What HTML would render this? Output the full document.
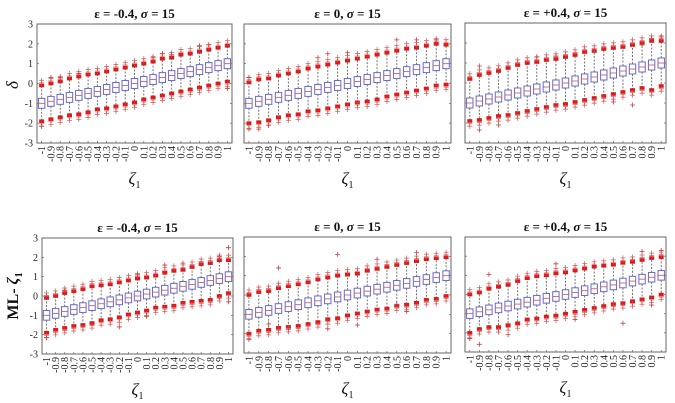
<!DOCTYPE html>
<html><head><meta charset="utf-8"><style>
html,body{margin:0;padding:0;background:#fff;}
svg{display:block;font-family:"Liberation Serif",serif;}
</style></head><body>
<svg id="chart" width="675" height="403" viewBox="0 0 675 403" xmlns="http://www.w3.org/2000/svg"></svg>
<script>
const categories = [-1,-0.9,-0.8,-0.7,-0.6,-0.5,-0.4,-0.3,-0.2,-0.1,0,0.1,0.2,0.3,0.4,0.5,0.6,0.7,0.8,0.9,1];
const tickLabels = ["-1","-0.9","-0.8","-0.7","-0.6","-0.5","-0.4","-0.3","-0.2","-0.1","0","0.1","0.2","0.3","0.4","0.5","0.6","0.7","0.8","0.9","1"];
const yTicks = [-3,-2,-1,0,1,2,3];
const titles = ["-0.4","0","+0.4","-0.4","0","+0.4"];
const medians = [-1,-0.9,-0.8,-0.7,-0.6,-0.5,-0.4,-0.3,-0.2,-0.1,0,0.1,0.2,0.3,0.4,0.5,0.6,0.7,0.8,0.9,1];
const boxHalf = [0.25,0.25,0.25,0.25,0.25,0.25,0.25,0.25,0.25,0.25,0.25,0.25,0.25,0.25,0.25,0.25,0.25,0.25,0.25,0.25,0.25];
const upper1 = [-0.1,0.0,0.1,0.25,0.35,0.45,0.5,0.6,0.7,0.8,0.9,1.0,1.1,1.25,1.3,1.45,1.5,1.6,1.7,1.8,1.9];
const lower1 = [-1.9,-1.8,-1.7,-1.6,-1.55,-1.45,-1.3,-1.25,-1.15,-1.05,-0.95,-0.8,-0.7,-0.6,-0.5,-0.4,-0.3,-0.2,-0.1,0.0,0.1];
const upper2 = [0.05,0.2,0.25,0.4,0.5,0.6,0.75,0.85,0.95,1.05,1.15,1.25,1.35,1.45,1.55,1.65,1.75,1.8,1.9,2.0,1.95];
const lower2 = [-2.0,-1.95,-1.85,-1.7,-1.6,-1.55,-1.4,-1.35,-1.25,-1.15,-1.05,-0.95,-0.9,-0.8,-0.65,-0.55,-0.45,-0.35,-0.25,-0.1,-0.05];
const upper3 = [0.2,0.4,0.5,0.6,0.75,0.9,1.0,1.05,1.15,1.2,1.3,1.4,1.55,1.6,1.7,1.75,1.8,1.9,2.0,2.1,2.1];
const lower3 = [-1.9,-1.85,-1.75,-1.65,-1.6,-1.5,-1.4,-1.3,-1.2,-1.1,-1.05,-0.95,-0.85,-0.75,-0.65,-0.55,-0.45,-0.35,-0.25,-0.35,-0.15];
const upper4 = [-0.1,0.0,0.15,0.25,0.35,0.5,0.55,0.6,0.7,0.8,0.9,0.95,1.05,1.2,1.3,1.35,1.5,1.65,1.7,1.85,1.85];
const lower4 = [-1.9,-1.75,-1.65,-1.55,-1.5,-1.4,-1.25,-1.2,-1.1,-0.95,-0.85,-0.75,-0.6,-0.55,-0.5,-0.35,-0.3,-0.25,-0.2,0.0,0.15];
const upper5 = [0.0,0.15,0.2,0.35,0.45,0.55,0.65,0.8,0.9,1.0,1.05,1.1,1.25,1.35,1.45,1.55,1.65,1.75,1.85,1.9,1.95];
const lower5 = [-2.0,-1.85,-1.8,-1.7,-1.65,-1.6,-1.5,-1.4,-1.25,-1.2,-1.05,-0.95,-0.85,-0.75,-0.7,-0.55,-0.5,-0.4,-0.25,-0.2,-0.05];
const upper6 = [0.0,0.1,0.3,0.4,0.5,0.7,0.85,0.95,1.0,1.1,1.15,1.25,1.35,1.45,1.5,1.55,1.65,1.7,1.8,1.9,1.95];
const lower6 = [-2.0,-1.8,-1.7,-1.7,-1.6,-1.5,-1.3,-1.25,-1.15,-1.1,-1.0,-0.9,-0.8,-0.7,-0.6,-0.5,-0.45,-0.35,-0.25,-0.15,0.0];
const extra1 = [[0,-2.15],[1,0.3],[2,0.3],[4,0.5],[8,-1.2],[12,1.3],[13,1.5],[14,1.45],[17,1.9],[18,1.95],[20,-0.25]];
const extra2 = [[0,0.3],[0,-2.3],[1,-2.3],[2,-2.1],[7,1.3],[8,1.5],[10,1.55],[11,-0.95],[15,2.2],[17,2.2],[19,2.2]];
const extra3 = [[1,-2.35],[1,0.85],[3,-2.1],[7,1.3],[13,1.6],[15,-0.95],[17,-1.1],[18,1.9],[19,2.2],[20,2.3],[9,1.35]];
const extra4 = [[0,-2.15],[2,0.3],[8,-1.6],[10,1.1],[11,-1.05],[15,1.7],[19,2.05],[20,2.5],[20,-0.3],[13,1.6]];
const extra5 = [[0,-2.3],[2,-1.5],[3,1.4],[4,-1.7],[8,-1.75],[9,2.1],[11,-1.55],[17,2.2],[15,-0.5],[16,-0.85],[13,1.85]];
const extra6 = [[0,-2.3],[1,-2.6],[2,1.05],[4,-2.1],[9,1.6],[11,-1.3],[16,-1.5],[18,2.25],[19,-0.55],[20,2.3]];
const uppers = [upper1,upper2,upper3,upper4,upper5,upper6];
const lowers = [lower1,lower2,lower3,lower4,lower5,lower6];
const extras = [extra1,extra2,extra3,extra4,extra5,extra6];
const panels = [[37,24,232,143],[244,24,451,143],[465,23,666,143],[42,238,233,354],[244,237,451,353],[465,237,666,352]];

const svg = document.getElementById('chart');
const NS = 'http://www.w3.org/2000/svg';
function mk(tag, attrs, parent){const e=document.createElementNS(NS,tag);for(const k in attrs)e.setAttribute(k,attrs[k]);(parent||svg).appendChild(e);return e;}

panels.forEach((p,pi)=>{
  const [x0,y0,x1,y1]=p;
  const g=mk('g',{});
  
  
  const n=categories.length, step=(x1-x0)/n;
  const xs=i=>x0+step*(i+0.5);
  const ys=v=>y1-(v+3)/6*(y1-y0);
  const fr=mk('rect',{x:x0,y:y0,width:x1-x0,height:y1-y0,fill:'#fff',stroke:'#555','stroke-width':0.9},g);
  
  
  yTicks.forEach(t=>{
    const y=ys(t);
    mk('line',{x1:x0,x2:x0+2,y1:y,y2:y,stroke:'#666','stroke-width':0.7},g);
    mk('line',{x1:x1,x2:x1-2,y1:y,y2:y,stroke:'#666','stroke-width':0.7},g);
    if(pi===0||pi===3){const tx=mk('text',{x:x0-4,y:y+3.5,'font-size':10,'text-anchor':'end',fill:'#222'},g);tx.textContent=t;
      
      }
  });
  categories.forEach((c,i)=>{
    const x=xs(i);
    mk('line',{x1:x,x2:x,y1:y1,y2:y1-2,stroke:'#666','stroke-width':0.7},g);
    const tx=mk('text',{x:0,y:0,'font-size':10,'text-anchor':'end',fill:'#222',transform:`translate(${x+3.5},${y1+3}) rotate(-90)`},g);
    tx.textContent=tickLabels[i];
    
    
  });
  categories.forEach((c,i)=>{
    const x=xs(i), m=medians[i], up=uppers[pi][i], lo=lowers[pi][i];
    const bg=mk('g',{},g);
    
    
    mk('line',{x1:x,x2:x,y1:ys(m+boxHalf[i]),y2:ys(up),stroke:'#666','stroke-width':0.9,'stroke-dasharray':'2,1.5'},bg);
    mk('line',{x1:x,x2:x,y1:ys(m-boxHalf[i]),y2:ys(lo),stroke:'#666','stroke-width':0.9,'stroke-dasharray':'2,1.5'},bg);
    [up,lo].forEach((v,k)=>{
      const sgn=k===0?1:-1;
      mk('rect',{x:x-2.5,y:ys(v)-1.8,width:5,height:3.6,fill:'#e01818'},bg);
      [0.13,0.26].forEach(d=>{
        const yy=ys(v+sgn*d);
        mk('path',{d:`M${x-2.5},${yy}H${x+2.5}M${x},${yy-2.5}V${yy+2.5}`,stroke:'#d04545','stroke-width':0.8,opacity:0.8},bg);
      });
    });
    mk('rect',{x:x-3.2,y:ys(m+boxHalf[i]),width:6.4,height:ys(m-boxHalf[i])-ys(m+boxHalf[i]),fill:'#fff',stroke:'#6a6acc','stroke-width':1},bg);
    mk('line',{x1:x-3.2,x2:x+3.2,y1:ys(m),y2:ys(m),stroke:'#d06060','stroke-width':0.9},bg);
  });
  extras[pi].forEach(([i,v])=>{
    const x=xs(i), yy=ys(v);
    const o=mk('path',{d:`M${x-2.5},${yy}H${x+2.5}M${x},${yy-2.5}V${yy+2.5}`,stroke:'#c84040','stroke-width':0.8},g);
    
    
  });
  const tt=mk('text',{x:(x0+x1)/2,y:y0-6,'font-size':13,'font-weight':'bold','text-anchor':'middle',fill:'#111'},g);
  tt.innerHTML='ε = '+titles[pi]+', <tspan font-style="italic">σ</tspan> = 15';
  
  
  const xl=mk('text',{x:(x0+x1)/2,y:y1+41,'font-size':17,'text-anchor':'middle',fill:'#111'},g);
  xl.innerHTML='<tspan font-style="italic">ζ</tspan><tspan font-size="10" dy="4">1</tspan>';
  
  
});
const yl1=mk('text',{x:0,y:0,'font-size':17,'font-style':'italic','text-anchor':'middle',fill:'#111',transform:'translate(18,85) rotate(-90)'});
yl1.textContent='δ';


const yl2=mk('text',{x:0,y:0,'font-size':16,'font-weight':'bold','text-anchor':'middle',fill:'#111',transform:'translate(18,296) rotate(-90)'});
yl2.innerHTML='ML- <tspan font-style="italic">ζ</tspan><tspan font-size="10" dy="4">1</tspan>';


</script>
</body></html>
